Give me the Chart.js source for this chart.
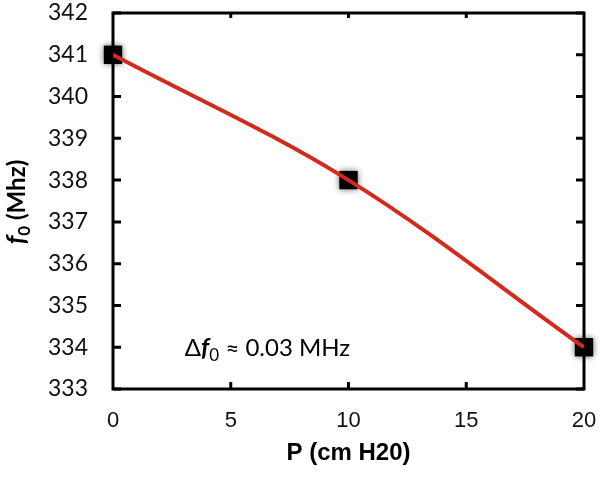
<!DOCTYPE html>
<html>
<head>
<meta charset="utf-8">
<script src="https://cdn.jsdelivr.net/npm/chart.js@4.4.1/dist/chart.umd.min.js"></script>
<style>
  html, body { margin: 0; padding: 0; background: #fff; }
  #wrap { width: 600px; height: 478px; }
</style>
</head>
<body>
<div id="wrap"><canvas id="myChart"></canvas></div>
<script>
// pressure (cm H20) and resonant frequency (MHz)
var pressure = [0, 10, 20];
var freq = [341, 338, 334];
var xTicks = [0, 5, 10, 15, 20];
var yTicks = [333, 334, 335, 336, 337, 338, 339, 340, 341, 342];

var points = pressure.map(function(p, i) { return { x: p, y: freq[i] }; });

// frame with inward ticks, drawn under the markers
var framePlugin = {
    id: 'frame',
    beforeDatasetsDraw: function(chart) {
        var ctx = chart.ctx, a = chart.chartArea;
        var xs = chart.scales.x, ys = chart.scales.y;
        ctx.save();
        ctx.strokeStyle = '#000';
        ctx.lineWidth = 3;
        ctx.lineCap = 'square';
        ctx.strokeRect(a.left, a.top, a.right - a.left, a.bottom - a.top);
        ctx.lineCap = 'butt';
        ctx.beginPath();
        yTicks.forEach(function(v) {
            var y = ys.getPixelForValue(v);
            ctx.moveTo(a.left, y); ctx.lineTo(a.left + 8, y);
            ctx.moveTo(a.right, y); ctx.lineTo(a.right - 8, y);
        });
        xTicks.slice(1, -1).forEach(function(v) {
            var x = xs.getPixelForValue(v);
            ctx.moveTo(x, a.bottom); ctx.lineTo(x, a.bottom - 7);
            ctx.moveTo(x, a.top); ctx.lineTo(x, a.top + 5);
        });
        ctx.stroke();
        ctx.restore();
    },
    beforeDatasetDraw: function(chart, args) {
        if (args.index === 1) {
            chart.ctx.save();
            chart.ctx.shadowColor = 'rgba(0,0,0,0.6)';
            chart.ctx.shadowBlur = 6;
        }
    },
    afterDatasetDraw: function(chart, args) {
        if (args.index === 1) chart.ctx.restore();
    },
    afterDraw: function(chart) {
        var ctx = chart.ctx;
        var xs = chart.scales.x, ys = chart.scales.y;
        ctx.save();
        ctx.fillStyle = '#000';
        ctx.textBaseline = 'alphabetic';

        // y axis title: f0 (Mhz)
        ctx.translate(25, 202);
        ctx.rotate(-Math.PI / 2);
        var parts = [
            { t: 'f', f: 'italic bold 26px Lato', dy: 0 },
            { t: '0', f: 'bold 17px Lato', dy: 5 },
            { t: ' (Mhz)', f: 'bold 24px Lato', dy: 0 }
        ];
        var w = 0;
        parts.forEach(function(p) { ctx.font = p.f; w += ctx.measureText(p.t).width; });
        var x = -w / 2;
        parts.forEach(function(p) {
            ctx.font = p.f;
            ctx.fillText(p.t, x, p.dy);
            x += ctx.measureText(p.t).width;
        });
        ctx.restore();

        // note inside the plot
        ctx.save();
        ctx.fillStyle = '#000';
        var nx = xs.getPixelForValue(3.05), ny = ys.getPixelForValue(333.8);
        var note = [
            { t: '\u0394', f: '24px Lato', dy: 0 },
            { t: 'f', f: 'italic bold 25px Lato', dy: 0 },
            { t: '0', f: '17px Lato', dy: 5 },
            { t: ' \u2248 0.03 MHz', f: '24px Lato', dy: 0 }
        ];
        note.forEach(function(p) {
            ctx.font = p.f;
            ctx.fillText(p.t, nx, ny + p.dy);
            nx += ctx.measureText(p.t).width;
        });
        ctx.restore();
    }
};

var ctx = document.getElementById('myChart').getContext('2d');
var myChart = new Chart(ctx, {
    type: 'line',
    data: {
        datasets: [
            {
                data: points,
                borderColor: '#d22a1c',
                borderWidth: 4,
                tension: 0.35,
                pointRadius: 0,
                fill: false
            },
            {
                data: points,
                showLine: false,
                pointStyle: 'rect',
                pointRadius: 13,
                pointHoverRadius: 13,
                backgroundColor: '#000',
                borderColor: '#000',
                borderWidth: 0,
                clip: false
            }
        ]
    },
    options: {
        responsive: true,
        maintainAspectRatio: false,
        animation: false,
        events: [],
        layout: { padding: { top: 8, right: 16, left: 0, bottom: 0 } },
        plugins: {
            legend: { display: false },
            tooltip: { enabled: false }
        },
        scales: {
            x: {
                type: 'linear',
                min: 0,
                max: 20,
                afterBuildTicks: function(scale) {
                    scale.ticks = xTicks.map(function(v) { return { value: v }; });
                },
                afterFit: function(scale) {
                    scale.height = 89;
                    scale.paddingLeft = 0;
                    scale.paddingRight = 0;
                },
                grid: { display: false, drawTicks: false },
                border: { display: false },
                ticks: {
                    padding: 19,
                    color: '#111',
                    font: { family: 'Liberation Sans', size: 22 }
                },
                title: {
                    display: true,
                    text: 'P (cm H20)',
                    color: '#000',
                    font: { family: 'Liberation Sans', size: 24, weight: 'bold' },
                    padding: { top: 0, bottom: 10 }
                }
            },
            y: {
                type: 'linear',
                min: 333,
                max: 342,
                afterBuildTicks: function(scale) {
                    scale.ticks = yTicks.map(function(v) { return { value: v }; });
                },
                afterFit: function(scale) {
                    scale.width = 113;
                    scale.paddingTop = 0;
                    scale.paddingBottom = 0;
                },
                grid: { display: false, drawTicks: false },
                border: { display: false },
                ticks: {
                    padding: 25,
                    color: '#111',
                    font: { family: 'Lato', size: 23 }
                }
            }
        }
    },
    plugins: [framePlugin]
});
</script>
</body>
</html>
